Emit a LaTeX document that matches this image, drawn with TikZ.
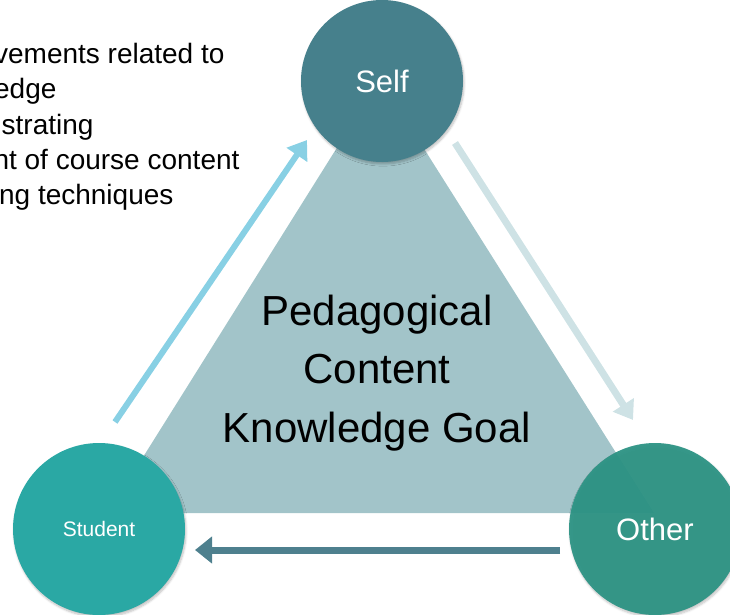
\documentclass[tikz,border=0pt]{standalone}
\usepackage{fontspec}
\setmainfont{Liberation Sans}
\usetikzlibrary{arrows.meta,shadows.blur}

\definecolor{selfcol}{RGB}{70,128,140}
\definecolor{studentcol}{RGB}{42,168,164}
\definecolor{othercol}{RGB}{44,147,132}
\definecolor{tricol}{RGB}{162,196,201}
\definecolor{upcol}{RGB}{136,208,228}
\definecolor{downcol}{RGB}{206,226,229}
\definecolor{backcol}{RGB}{78,128,142}

\tikzset{
  person/.style={shape=circle, inner sep=0pt, text=white,
    blur shadow={shadow xshift=1pt, shadow yshift=-2pt, shadow blur steps=6, shadow opacity=25}},
  flow/.style={line width=7pt, -{Triangle[length=18pt,width=24pt]}},
  note/.style={anchor=base east, font=\fontsize{28}{35}\selectfont},
}

\begin{document}
\begin{tikzpicture}[x=1pt,y=-1pt]
    \useasboundingbox (0,0) rectangle (730,615);
    \node[note] (l1) at (228,64) {vements related to};
    \node[note] (l2) at (60,99) {edge};
    \node[note] (l3) at (97,134) {strating};
    \node[note] (l4) at (243,169) {nt of course content};
    \node[note] (l5) at (177,204) {ng techniques};
    \coordinate (top) at (380,79);
    \coordinate (left) at (108,513);
    \coordinate (right) at (654,513);
    \fill[tricol] (left) -- (top) -- (right) -- cycle;
    \node[align=center, font=\fontsize{42}{58.5}\selectfont] (goal) at (377,373) {Pedagogical\\Content\\Knowledge Goal};
    \node[person, fill=selfcol, minimum size=162pt, font=\fontsize{31}{36}\selectfont] (self) at (382,81) {Self};
    \node[person, fill=studentcol, minimum size=172pt, font=\fontsize{21}{25}\selectfont] (student) at (99,529) {Student};
    \node[person, fill=othercol, fill opacity=0.94, text opacity=1, minimum size=172pt, font=\fontsize{31}{36}\selectfont] (other) at (655,529) {Other};
    \coordinate (s1) at (115,422);
    \coordinate (s2) at (307,140);
    \coordinate (o1) at (455,143);
    \coordinate (o2) at (633,420);
    \coordinate (b1) at (560,550);
    \coordinate (b2) at (195,550);
    \path (s1) edge[flow, draw=upcol, line width=6pt] (s2);
    \path (o1) edge[flow, draw=downcol] (o2);
    \path (b1) edge[flow, draw=backcol, -{Triangle[length=17pt,width=26pt]}] (b2);
\end{tikzpicture}
\end{document}
